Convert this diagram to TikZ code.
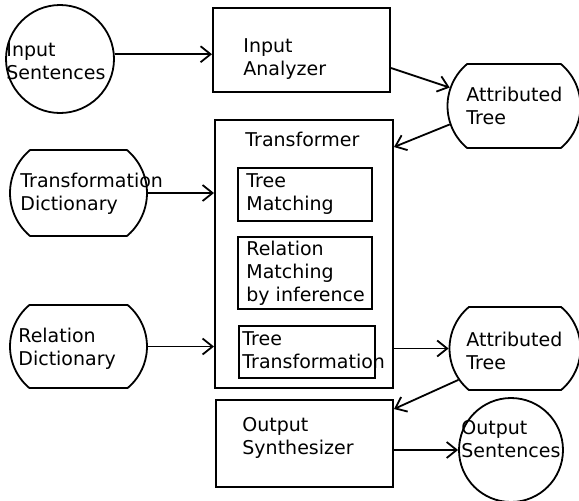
\documentclass[tikz,border=0pt]{standalone}
\usepackage{fontspec}
\setmainfont{DejaVu Sans}
\usepackage{tikz}
\usetikzlibrary{positioning, arrows.meta, shapes.misc}

\begin{document}
\begin{tikzpicture}[x=0.5pt, y=-0.5pt,
  box/.style={draw, line width=1pt, inner sep=0pt},
  sub/.style={draw, line width=0.9pt, inner sep=0pt},
  disc/.style={draw, circle, line width=0.9pt, inner sep=0pt},
  store/.style={draw, rounded rectangle, rounded rectangle arc length=100,
    line width=0.9pt, inner sep=0pt},
  txt/.style={anchor=west, align=left, inner sep=0pt,
    font=\fontsize{9.5}{11.5}\selectfont},
  arr/.style={-{Straight Barb[length=5pt, width=8pt]}, line width=0.9pt}]
\useasboundingbox (0,0) rectangle (579,500);

% Input side
\node[disc, minimum size=54pt] (insent) at (60,59) {};
\node[txt] (insentT) at (6,61) {Input\\Sentences};
\node[box, minimum width=88.5pt, minimum height=42pt] (inan) at (301.5,50) {};
\node[txt] (inanT) at (243,59.5) {Input\\Analyzer};
\node[store, minimum width=66.5pt, minimum height=42pt] (at1) at (514,106) {};
\node[txt] (at1T) at (466,106) {Attributed\\Tree};

% Transformer with its three parts
\node[box, minimum width=89pt, minimum height=134pt] (trans) at (304,254) {};
\node[txt] (transT) at (245,139) {Transformer};
\node[sub, minimum width=67pt, minimum height=26.5pt] (treematch) at (305,194.5) {};
\node[txt] (treematchT) at (246,194) {Tree\\Matching};
\node[sub, minimum width=67pt, minimum height=36pt] (relmatch) at (305,273) {};
\node[txt] (relmatchT) at (246,273) {Relation\\Matching\\by inference};
\node[sub, minimum width=68pt, minimum height=26pt] (treetrans) at (307,352) {};
\node[txt] (treetransT) at (242,350) {Tree\\Transformation};

% Dictionaries
\node[store, minimum width=68.5pt, minimum height=43pt] (trdict) at (78.5,193) {};
\node[txt] (trdictT) at (20,194) {Transformation\\Dictionary};
\node[store, minimum width=68.5pt, minimum height=41.5pt] (reldict) at (78.5,346.5) {};
\node[txt] (reldictT) at (18,349) {Relation\\Dictionary};

% Output side
\node[store, minimum width=65.5pt, minimum height=41.5pt] (at2) at (515,348.5) {};
\node[txt] (at2T) at (466,351) {Attributed\\Tree};
\node[box, minimum width=88.5pt, minimum height=43.5pt] (outsyn) at (304.5,443.5) {};
\node[txt] (outsynT) at (242,437.5) {Output\\Synthesizer};
\node[disc, minimum size=52pt] (outsent) at (511,450) {};
\node[txt] (outsentT) at (461,439) {Output\\Sentences};

% Connectors
\draw[arr] (insent.5) -- (insent.5 -| inan.west);
\draw[arr] ([yshift=-9pt]inan.east) -- (at1.164);
\draw[arr] (at1.196) -- ([yshift=-14pt]trans.north east);
\draw[arr] (trdict.east) -- (trdict.east -| trans.west);
\draw[arr] (reldict.east) -- (reldict.east -| trans.west);
\draw[arr] (at2.west -| trans.east) -- (at2.west);
\draw[arr] (at2.209) -- ([yshift=-5pt]outsyn.north east);
\draw[arr] (outsent.west -| outsyn.east) -- (outsent.west);
\end{tikzpicture}
\end{document}
